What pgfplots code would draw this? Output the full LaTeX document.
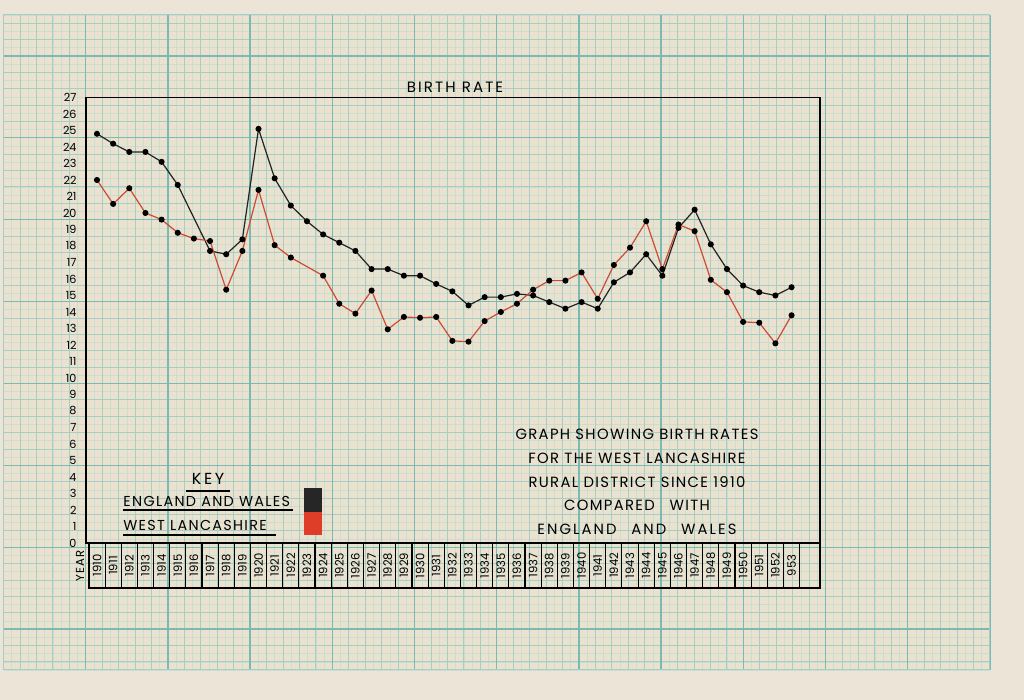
\documentclass[border=0pt]{standalone}
\usepackage{fontspec}
\setmainfont{Poppins}
\newfontfamily\spaced{Poppins}[LetterSpace=14]
\newfontfamily\wide{Poppins}[LetterSpace=9]
\usepackage{pgfplots}
\pgfplotsset{compat=1.18}

\definecolor{outerbg}{RGB}{236,228,214}
\definecolor{paper}{RGB}{234,225,207}
\definecolor{faintg}{RGB}{203,220,208}
\definecolor{fineg}{RGB}{165,206,198}
\definecolor{heavyg}{RGB}{120,186,180}
\definecolor{ewline}{RGB}{35,35,35}
\definecolor{wlline}{RGB}{205,75,50}
\definecolor{wlkey}{RGB}{222,62,40}

\begin{document}
\begin{tikzpicture}
\useasboundingbox (0,0) rectangle (512pt,350pt);
\fill[outerbg] (0,0) rectangle (512pt,350pt);
\fill[paper] (1.75pt,15pt) rectangle (494.95pt,342.5pt);
% graph paper: faint lines, medium every 2nd, heavy every 10th
\foreach \i in {0,...,120} {
  \pgfmathsetmacro\xx{1.75+4.11*\i}
  \draw[faintg, line width=0.3pt] (\xx pt,15pt) -- (\xx pt,342.5pt);
}
\foreach \j in {0,...,80} {
  \pgfmathsetmacro\yy{15+4.094*\j}
  \draw[faintg, line width=0.3pt] (1.75pt,\yy pt) -- (494.95pt,\yy pt);
}
\foreach \i in {0,2,...,120} {
  \pgfmathsetmacro\xx{1.75+4.11*\i}
  \draw[fineg, line width=0.4pt] (\xx pt,15pt) -- (\xx pt,342.5pt);
}
\foreach \j in {1,3,...,79} {
  \pgfmathsetmacro\yy{15+4.094*\j}
  \draw[fineg, line width=0.4pt] (1.75pt,\yy pt) -- (494.95pt,\yy pt);
}
\foreach \i in {0,10,...,120} {
  \pgfmathsetmacro\xx{1.75+4.11*\i}
  \draw[heavyg, line width=0.65pt] (\xx pt,15pt) -- (\xx pt,342.5pt);
}
\foreach \j in {5,15,...,75} {
  \pgfmathsetmacro\yy{15+4.094*\j}
  \draw[heavyg, line width=0.65pt] (1.75pt,\yy pt) -- (494.95pt,\yy pt);
}
\draw[fineg, line width=0.5pt] (1.75pt,15pt) rectangle (494.95pt,342.5pt);

\begin{axis}[
  at={(43pt,78.5pt)}, anchor=south west,
  scale only axis, width=367pt, height=222.75pt,
  xmin=1909.32, xmax=1954.76, ymin=0, ymax=27,
  clip=false,
  axis line style={black, line width=0.7pt},
  major tick length=0pt,
  ytick={0,...,27},
  xtick={1910,...,1953},
  xticklabels={1910,1911,1912,1913,1914,1915,1916,1917,1918,1919,1920,1921,1922,1923,1924,1925,1926,1927,1928,1929,1930,1931,1932,1933,1934,1935,1936,1937,1938,1939,1940,1941,1942,1943,1944,1945,1946,1947,1948,1949,1950,1951,1952,953},
  /pgf/number format/assume math mode=true,
  yticklabel style={font=\fontsize{5.6}{6}\selectfont, xshift=-1.2pt},
  xticklabel style={font=\fontsize{5.8}{6}\selectfont, yshift=-11.25pt, rotate=90, anchor=center},
]
% England and Wales (no reading for 1916)
\addplot[ewline, line width=0.6pt, mark=*, mark size=1.2pt, mark options={fill=black, draw=black}]
coordinates {
(1910,24.8) (1911,24.2) (1912,23.7) (1913,23.7) (1914,23.1) (1915,21.7)
(1917,17.7) (1918,17.5) (1919,18.4) (1920,25.1) (1921,22.1) (1922,20.45)
(1923,19.5) (1924,18.7) (1925,18.2) (1926,17.7) (1927,16.6) (1928,16.6)
(1929,16.2) (1930,16.2) (1931,15.7) (1932,15.25) (1933,14.4) (1934,14.9)
(1935,14.9) (1936,15.1) (1937,15.0) (1938,14.6) (1939,14.2) (1940,14.6)
(1941,14.2) (1942,15.8) (1943,16.4) (1944,17.5) (1945,16.2) (1946,19.1)
(1947,20.2) (1948,18.1) (1949,16.6) (1950,15.6) (1951,15.2) (1952,15.0)
(1953,15.5)
};
% West Lancashire (no reading for 1923)
\addplot[wlline, line width=0.6pt, mark=*, mark size=1.2pt, mark options={fill=black, draw=black}]
coordinates {
(1910,22.0) (1911,20.55) (1912,21.5) (1913,20.0) (1914,19.6) (1915,18.8)
(1916,18.45) (1917,18.3) (1918,15.35) (1919,17.7) (1920,21.4) (1921,18.05)
(1922,17.3) (1924,16.2) (1925,14.5) (1926,13.9) (1927,15.3) (1928,12.95)
(1929,13.7) (1930,13.65) (1931,13.7) (1932,12.25) (1933,12.2) (1934,13.45)
(1935,14.0) (1936,14.5) (1937,15.35) (1938,15.9) (1939,15.9) (1940,16.4)
(1941,14.8) (1942,16.85) (1943,17.9) (1944,19.5) (1945,16.6) (1946,19.3)
(1947,18.9) (1948,15.95) (1949,15.2) (1950,13.4) (1951,13.35) (1952,12.1)
(1953,13.8)
};
\end{axis}

% year table
\draw[line width=0.6pt] (44.45pt,78.5pt) rectangle (410pt,56pt);
\foreach \k in {0,...,44} {
  \pgfmathsetmacro\xx{43+(0.18+\k)*8.076}
  \draw[line width=0.55pt] (\xx pt,78.5pt) -- (\xx pt,56pt);
}
\node[rotate=90, font=\wide\fontsize{5.8}{6}\selectfont] at (40pt,67pt) {YEAR};

% title
\node[font=\spaced\fontsize{7.5}{9}\selectfont] at (227.5pt,306.5pt) {BIRTH RATE};

% key
\node[font=\spaced\fontsize{8}{9}\selectfont] at (104pt,110.5pt) {K\,E\,Y};
\draw[line width=0.6pt] (93pt,104.5pt) -- (115pt,104.5pt);
\node[anchor=west, inner sep=0pt, font=\wide\fontsize{7.2}{8}\selectfont] at (61.5pt,99.5pt) {ENGLAND AND WALES};
\draw[line width=0.6pt] (61.5pt,95pt) -- (146.5pt,95pt);
\node[anchor=west, inner sep=0pt, font=\wide\fontsize{7.2}{8}\selectfont] at (61.5pt,87.5pt) {WEST LANCASHIRE};
\draw[line width=0.6pt] (61.5pt,82.5pt) -- (138pt,82.5pt);
\fill[black!85] (152pt,94pt) rectangle (161pt,106pt);
\fill[wlkey] (152pt,82.5pt) rectangle (161pt,94pt);

% description
\node[align=center, inner sep=0pt, font=\wide\fontsize{7.4}{11.85}\selectfont] at (318.5pt,109pt)
  {GRAPH SHOWING BIRTH RATES\\FOR THE WEST LANCASHIRE\\RURAL DISTRICT SINCE 1910\\COMPARED\quad WITH\\{\spaced ENGLAND\quad AND\quad WALES}};
\end{tikzpicture}
\end{document}
